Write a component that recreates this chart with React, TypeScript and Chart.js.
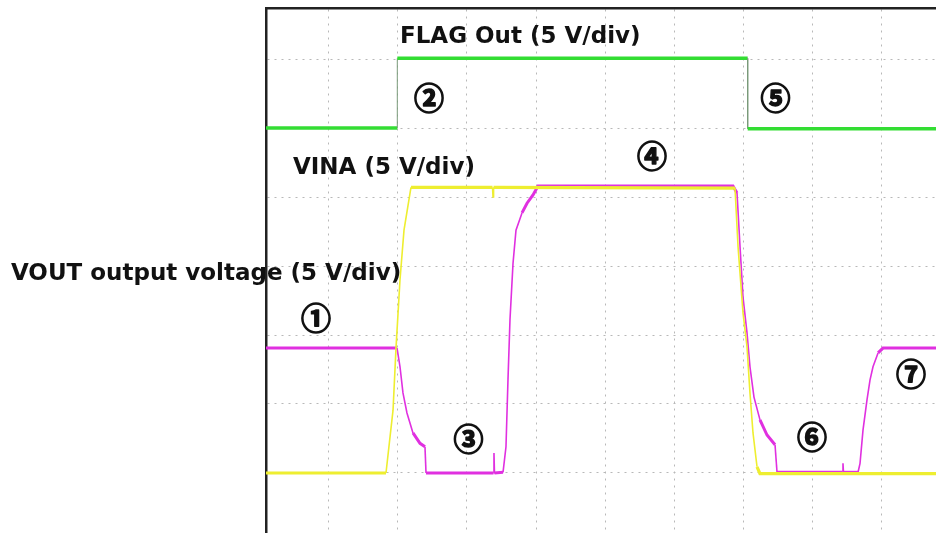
import React, { useEffect, useRef } from "react";
import { Chart, registerables } from "chart.js";

Chart.register(...registerables);

// Axis units: divisions (x: time div, y: 5 V/div)
const xRange = [0.087, 9.797];
const yRange = [-0.87, 6.74];
const xGridTicks = [1, 2, 3, 4, 5, 6, 7, 8, 9];
const yGridTicks = [0, 1, 2, 3, 4, 5, 6];

// FLAG Out trace
const flagX = [0.087, 1.99, 1.99, 7.068, 7.068, 9.797];
const flagY = [5.0, 5.0, 6.01, 6.01, 4.99, 4.99];

// VINA trace
const vinaX = [0.087, 1.826, 1.928, 1.971, 2.029, 2.087, 2.188, 3.37, 3.377, 3.385, 6.884, 6.928, 7.0, 7.058, 7.101, 7.145, 7.203, 7.246, 9.797];
const vinaY = [0.0, 0.0, 0.91, 1.81, 2.8, 3.52, 4.14, 4.14, 4.0, 4.14, 4.13, 3.28, 2.32, 1.83, 1.16, 0.58, 0.09, -0.01, -0.01];

// VOUT trace
const voutX = [0.087, 1.986, 2.029, 2.072, 2.13, 2.217, 2.319, 2.391, 2.406, 3.384, 3.391, 3.398, 3.522, 3.565, 3.594, 3.623, 3.667, 3.71, 3.797, 3.87, 3.957, 4.029, 6.855, 6.913, 6.957, 7.0, 7.058, 7.101, 7.159, 7.246, 7.348, 7.464, 7.493, 8.442, 8.449, 8.456, 8.667, 8.696, 8.739, 8.797, 8.841, 8.884, 8.957, 9.029, 9.797];
const voutY = [1.81, 1.81, 1.54, 1.16, 0.87, 0.58, 0.43, 0.38, 0.0, 0.0, 0.29, 0.0, 0.01, 0.38, 1.35, 2.22, 3.04, 3.52, 3.77, 3.91, 4.03, 4.16, 4.16, 4.06, 3.28, 2.55, 2.03, 1.54, 1.1, 0.77, 0.55, 0.41, 0.01, 0.01, 0.14, 0.01, 0.01, 0.14, 0.62, 1.06, 1.35, 1.54, 1.74, 1.81, 1.81];

// Annotation labels
const titleTexts = ["FLAG Out (5 V/div)", "VINA (5 V/div)", "VOUT output voltage (5 V/div)"];
const titleX = [2.029, 0.478, -3.609];
const titleY = [6.232, 4.333, 2.797];

const markTexts = ["①", "②", "③", "④", "⑤", "⑥", "⑦"];
const markX = [0.812, 2.449, 3.022, 5.681, 7.471, 8.0, 9.435];
const markY = [2.246, 5.435, 0.493, 4.594, 5.442, 0.529, 1.445];

const toPoints = (xs: number[], ys: number[]) => xs.map((x, i) => ({ x, y: ys[i] }));

const steep = (ctx: any) => {
  const dx = Math.abs(ctx.p1.x - ctx.p0.x);
  const dy = Math.abs(ctx.p1.y - ctx.p0.y);
  return dy > 2.5 * dx;
};

const labelPlugin = {
  id: "labels",
  afterDatasetsDraw(chart: any) {
    const { ctx, scales } = chart;
    const xs = scales.x;
    const ys = scales.y;
    ctx.save();
    ctx.fillStyle = "#111";
    ctx.strokeStyle = "#111";
    ctx.font = 'bold 23px "DejaVu Sans"';
    ctx.textAlign = "left";
    ctx.textBaseline = "alphabetic";
    titleTexts.forEach((t, i) => {
      ctx.fillText(t, xs.getPixelForValue(titleX[i]), ys.getPixelForValue(titleY[i]));
    });
    ctx.font = 'bold 30px "Noto Sans CJK JP"';
    ctx.textAlign = "center";
    ctx.textBaseline = "middle";
    ctx.lineWidth = 1.4;
    ctx.lineJoin = "round";
    markTexts.forEach((t, i) => {
      const px = xs.getPixelForValue(markX[i]);
      const py = ys.getPixelForValue(markY[i]);
      ctx.fillText(t, px, py);
      ctx.strokeText(t, px, py);
    });
    ctx.restore();
  },
};

export default function App() {
  const ref = useRef<HTMLCanvasElement | null>(null);
  useEffect(() => {
    if (!ref.current) return;
    const chart = new Chart(ref.current, {
      type: "line",
      data: {
        datasets: [
          {
            label: "VINA",
            data: toPoints(vinaX, vinaY),
            borderColor: "#eeee30",
            borderWidth: 3,
            pointRadius: 0,
            tension: 0,
            segment: {
              borderWidth: (c: any) => (steep(c) ? 1.6 : 3.2),
            },
          },
          {
            label: "VOUT",
            data: toPoints(voutX, voutY),
            borderColor: "#e030e0",
            borderWidth: 3,
            pointRadius: 0,
            tension: 0,
            segment: {
              borderWidth: (c: any) => (steep(c) ? 1.6 : 3),
            },
          },
          {
            label: "FLAG",
            data: toPoints(flagX, flagY),
            borderColor: "#33dd33",
            borderWidth: 3.5,
            pointRadius: 0,
            tension: 0,
            segment: {
              borderWidth: (c: any) => (steep(c) ? 1 : 3.5),
              borderColor: (c: any) => (steep(c) ? "#7a9a7a" : "#33dd33"),
            },
          },
        ],
      },
      options: {
        animation: false,
        responsive: true,
        maintainAspectRatio: false,
        layout: { padding: { left: 266, top: 8, right: 0, bottom: 0 } },
        plugins: { legend: { display: false }, tooltip: { enabled: false } },
        scales: {
          x: {
            type: "linear",
            position: "top",
            min: xRange[0],
            max: xRange[1],
            afterBuildTicks: (s: any) => {
              s.ticks = xGridTicks.map((v) => ({ value: v }));
            },
            ticks: { display: false },
            grid: { color: "#b8b8b8", lineWidth: 1, drawTicks: false },
            border: { display: true, color: "#222", width: 2.5, dash: [2, 5] },
          },
          y: {
            type: "linear",
            position: "left",
            min: yRange[0],
            max: yRange[1],
            afterBuildTicks: (s: any) => {
              s.ticks = yGridTicks.map((v) => ({ value: v }));
            },
            ticks: { display: false },
            grid: { color: "#b8b8b8", lineWidth: 1, drawTicks: false },
            border: { display: true, color: "#222", width: 2.5, dash: [2, 5] },
          },
        },
      },
      plugins: [labelPlugin],
    } as any);
    return () => chart.destroy();
  }, []);
  return (
    <div style={{ position: "fixed", left: 0, top: 0, width: 936, height: 533, background: "#fff" }}>
      <canvas ref={ref} />
    </div>
  );
}
